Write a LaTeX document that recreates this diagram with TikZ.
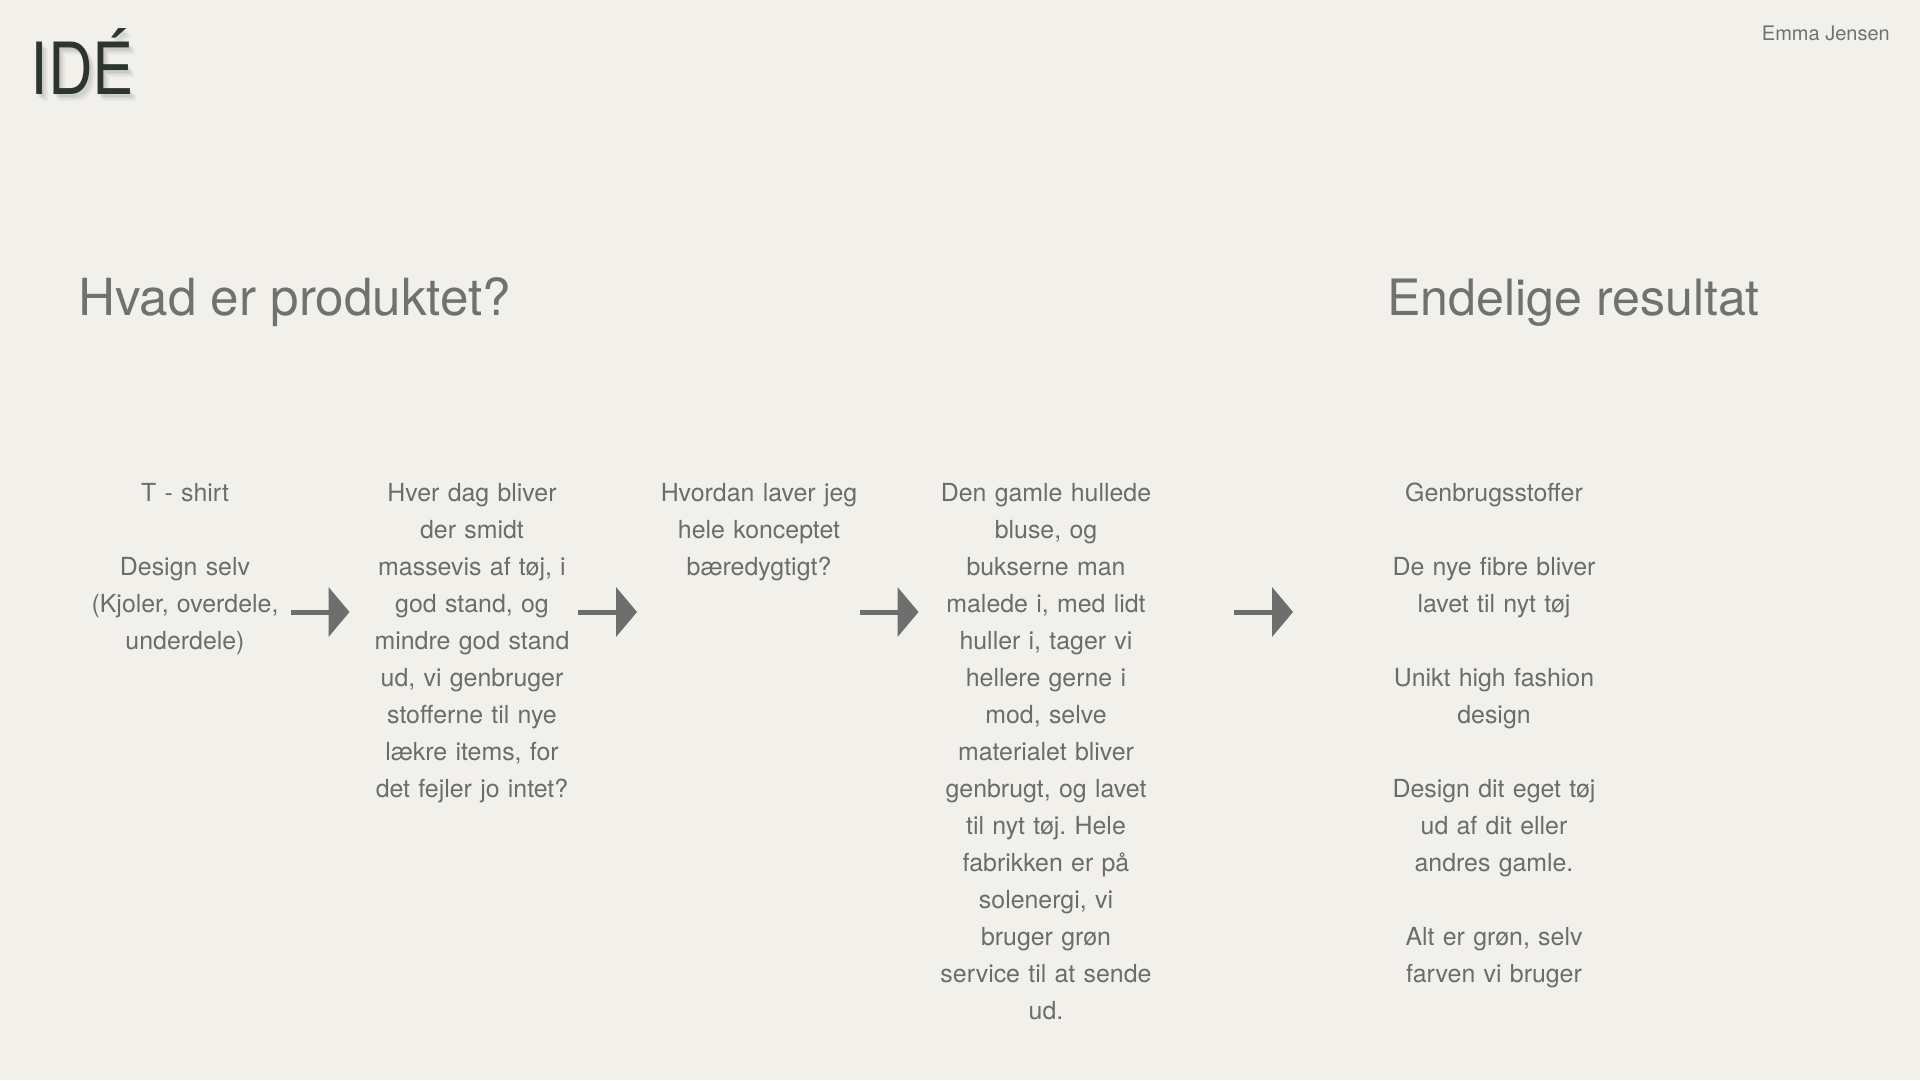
\documentclass[tikz,border=0pt]{standalone}
\usepackage{fontspec}
\setmainfont{TeX Gyre Heros}
\usetikzlibrary{arrows.meta}
\definecolor{bg}{HTML}{F1F0EB}
\definecolor{bodygray}{HTML}{6C6C6C}
\definecolor{headgray}{HTML}{717171}
\definecolor{titledark}{HTML}{2D3530}
\definecolor{arrowgray}{HTML}{6E6E6E}
\tikzset{
  bodytext/.style={text=bodygray, inner sep=0pt, anchor=base, text width=280pt, align=center,
    font=\fontsize{24.9}{37}\selectfont\frenchspacing},
  headtext/.style={text=headgray, inner sep=0pt, anchor=base west},
  titletext/.style={anchor=base west, inner sep=0pt, xscale=0.86, transform shape,
    font=\fontsize{72}{80}\selectfont},
  flowarrow/.style={draw=arrowgray, line width=5pt,
    -{Triangle[length=21pt, width=50pt, line width=0pt]}},
}
\begin{document}
\begin{tikzpicture}[x=1pt, y=-1pt]
\fill[bg] (0,0) rectangle (1920,1080);
\useasboundingbox (0,0) rectangle (1920,1080);
% title with soft shadow
\foreach \dx/\dy/\op in {2/3/0.07,4/5/0.06,6/7/0.04}{
  \node[titletext, text=black, opacity=\op] at (30.8+\dx,94.3+\dy) {IDÉ};
}
\node (title) [titletext, text=titledark] at (30.8,94.3) {IDÉ};
\node (author) [anchor=base east, inner sep=0pt, text=headgray,
  font=\fontsize{20}{24}\selectfont] at (1890,40) {Emma Jensen};
% headings
\node (h1) [headtext, font=\fontsize{51.2}{60}\selectfont] at (78,315) {Hvad er produktet?};
\node (h2) [headtext, font=\fontsize{50.1}{60}\selectfont] at (1387,315) {Endelige resultat};
% columns
\node (t1) [bodytext] at (185,501) {T - shirt\\[37pt]Design selv\\(Kjoler, overdele,\\underdele)};
\node (t2) [bodytext] at (472,501) {Hver dag bliver\\der smidt\\massevis af tøj, i\\god stand, og\\mindre god stand\\ud, vi genbruger\\stofferne til nye\\lækre items, for\\det fejler jo intet?};
\node (t3) [bodytext] at (759,501) {Hvordan laver jeg\\hele konceptet\\bæredygtigt?};
\node (t4) [bodytext] at (1046,501) {Den gamle hullede\\bluse, og\\bukserne man\\malede i, med lidt\\huller i, tager vi\\hellere gerne i\\mod, selve\\materialet bliver\\genbrugt, og lavet\\til nyt tøj. Hele\\fabrikken er på\\solenergi, vi\\bruger grøn\\service til at sende\\ud.};
\node (t5) [bodytext] at (1494,501) {Genbrugsstoffer\\[37pt]De nye fibre bliver\\lavet til nyt tøj\\[37pt]Unikt high fashion\\design\\[37pt]Design dit eget tøj\\ud af dit eller\\andres gamle.\\[37pt]Alt er grøn, selv\\farven vi bruger};
% arrows
\coordinate (a1s) at (291,612); \coordinate (a1e) at (349.5,612);
\coordinate (a2s) at (578,612); \coordinate (a2e) at (637,612);
\coordinate (a3s) at (860,612); \coordinate (a3e) at (918.5,612);
\coordinate (a4s) at (1234,612); \coordinate (a4e) at (1293,612);
\draw[flowarrow] (a1s) -- (a1e);
\draw[flowarrow] (a2s) -- (a2e);
\draw[flowarrow] (a3s) -- (a3e);
\draw[flowarrow] (a4s) -- (a4e);
\end{tikzpicture}
\end{document}
